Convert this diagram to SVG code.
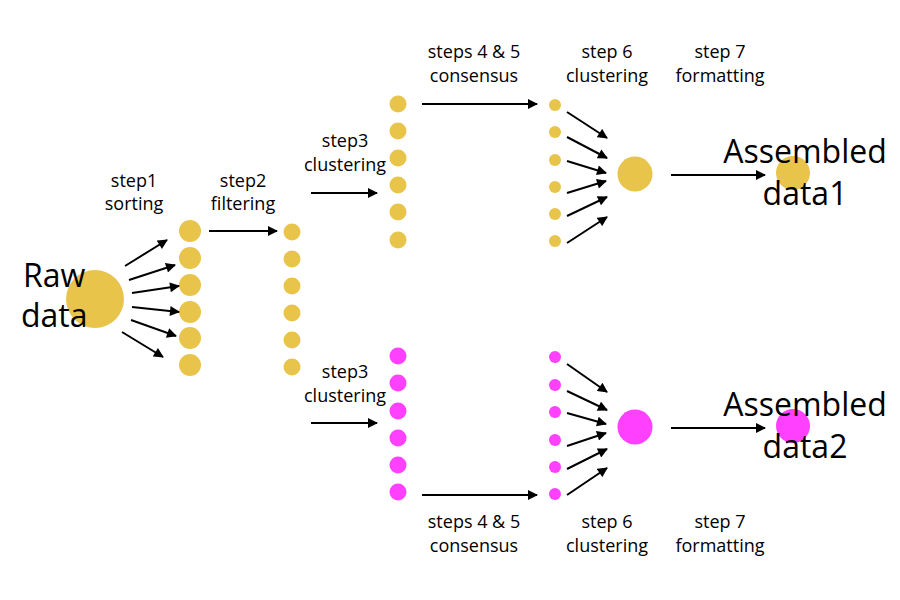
<svg xmlns="http://www.w3.org/2000/svg" width="900" height="600" viewBox="0 0 900 600">
<defs>
<marker id="ah" viewBox="0 0 10 10" refX="9" refY="5" markerWidth="5.5" markerHeight="5" markerUnits="strokeWidth" orient="auto">
<path d="M0,0 L10,5 L0,10 z" fill="#000"/>
</marker>
<style>
.y{fill:#e9c44b}
.m{fill:#ff40ff}
.c line{stroke:#000;stroke-width:2;marker-end:url(#ah)}
.s{font-family:"Open Sans","Liberation Sans",sans-serif;font-size:18px;fill:#000;text-anchor:middle}
.b{font-family:"Open Sans","Liberation Sans",sans-serif;font-size:32px;fill:#000}
</style>
</defs>
<rect width="900" height="600" fill="#fff"/>
<g id="raw"><circle class="y" cx="95" cy="299" r="29"/></g>
<g id="sorted">
<circle class="y" cx="190" cy="231" r="11"/><circle class="y" cx="190" cy="258" r="11"/><circle class="y" cx="190" cy="285" r="11"/><circle class="y" cx="190" cy="312" r="11"/><circle class="y" cx="190" cy="338" r="11"/><circle class="y" cx="190" cy="365" r="11"/>
</g>
<g id="filtered">
<circle class="y" cx="292" cy="232" r="8.5"/><circle class="y" cx="292" cy="259" r="8.5"/><circle class="y" cx="292" cy="286" r="8.5"/><circle class="y" cx="292" cy="313" r="8.5"/><circle class="y" cx="292" cy="340" r="8.5"/><circle class="y" cx="292" cy="367" r="8.5"/>
</g>
<g id="clustered1">
<circle class="y" cx="398" cy="104" r="8.5"/><circle class="y" cx="398" cy="131" r="8.5"/><circle class="y" cx="398" cy="158" r="8.5"/><circle class="y" cx="398" cy="185" r="8.5"/><circle class="y" cx="398" cy="212" r="8.5"/><circle class="y" cx="398" cy="240" r="8.5"/>
</g>
<g id="clustered2">
<circle class="m" cx="398" cy="356" r="8.5"/><circle class="m" cx="398" cy="383" r="8.5"/><circle class="m" cx="398" cy="411" r="8.5"/><circle class="m" cx="398" cy="438" r="8.5"/><circle class="m" cx="398" cy="465" r="8.5"/><circle class="m" cx="398" cy="492" r="8.5"/>
</g>
<g id="consensus1">
<circle class="y" cx="555" cy="105" r="6"/><circle class="y" cx="555" cy="132" r="6"/><circle class="y" cx="555" cy="160" r="6"/><circle class="y" cx="555" cy="187" r="6"/><circle class="y" cx="555" cy="214" r="6"/><circle class="y" cx="555" cy="241" r="6"/>
</g>
<g id="consensus2">
<circle class="m" cx="555" cy="357" r="6"/><circle class="m" cx="555" cy="385" r="6"/><circle class="m" cx="555" cy="412" r="6"/><circle class="m" cx="555" cy="440" r="6"/><circle class="m" cx="555" cy="467" r="6"/><circle class="m" cx="555" cy="494" r="6"/>
</g>
<g id="cluster1"><circle class="y" cx="635" cy="174" r="17.5"/></g>
<g id="cluster2"><circle class="m" cx="635" cy="427" r="17.5"/></g>
<g id="assembled1"><circle class="y" cx="793" cy="173" r="17"/></g>
<g id="assembled2"><circle class="m" cx="793" cy="426" r="17"/></g>
<g id="connectors" class="c">
<line x1="125" y1="266" x2="167" y2="240"/>
<line x1="129" y1="280" x2="175" y2="265"/>
<line x1="132" y1="293" x2="179" y2="286"/>
<line x1="132" y1="307" x2="179" y2="312"/>
<line x1="131" y1="320" x2="176" y2="336"/>
<line x1="122" y1="332" x2="163" y2="357"/>
<line x1="209" y1="231" x2="277" y2="231"/>
<line x1="311" y1="193" x2="377" y2="193"/>
<line x1="311" y1="423" x2="377" y2="423"/>
<line x1="422" y1="104" x2="537" y2="104"/>
<line x1="422" y1="495" x2="537" y2="495"/>
<line x1="567" y1="112" x2="607" y2="138"/>
<line x1="567" y1="137" x2="607" y2="158"/>
<line x1="567" y1="161" x2="606" y2="173"/>
<line x1="567" y1="193" x2="606" y2="181"/>
<line x1="567" y1="216" x2="607" y2="197"/>
<line x1="567" y1="243" x2="607" y2="217"/>
<line x1="567" y1="364" x2="607" y2="392"/>
<line x1="567" y1="391" x2="607" y2="410"/>
<line x1="567" y1="413" x2="606" y2="424"/>
<line x1="567" y1="446" x2="606" y2="433"/>
<line x1="567" y1="469" x2="607" y2="449"/>
<line x1="567" y1="495" x2="607" y2="468"/>
<line x1="671" y1="175" x2="765" y2="175"/>
<line x1="671" y1="428" x2="765" y2="428"/>
</g>
<g id="labels">
<text class="s" x="134" y="187">step1</text><text class="s" x="134" y="210">sorting</text>
<text class="s" x="243" y="187">step2</text><text class="s" x="243" y="210">filtering</text>
<text class="s" x="345" y="147">step3</text><text class="s" x="345" y="171">clustering</text>
<text class="s" x="345" y="378">step3</text><text class="s" x="345" y="402">clustering</text>
<text class="s" x="474" y="58">steps 4 &amp; 5</text><text class="s" x="474" y="82">consensus</text>
<text class="s" x="607" y="58">step 6</text><text class="s" x="607" y="82">clustering</text>
<text class="s" x="720" y="58">step 7</text><text class="s" x="720" y="82">formatting</text>
<text class="s" x="474" y="528">steps 4 &amp; 5</text><text class="s" x="474" y="552">consensus</text>
<text class="s" x="607" y="528">step 6</text><text class="s" x="607" y="552">clustering</text>
<text class="s" x="720" y="528">step 7</text><text class="s" x="720" y="552">formatting</text>
<text class="b" x="23" y="287">Raw</text><text class="b" x="21" y="327">data</text>
<text class="b" x="805" y="163" text-anchor="middle">Assembled</text><text class="b" x="805" y="205" text-anchor="middle">data1</text>
<text class="b" x="805" y="416" text-anchor="middle">Assembled</text><text class="b" x="805" y="458" text-anchor="middle">data2</text>
</g>
</svg>
